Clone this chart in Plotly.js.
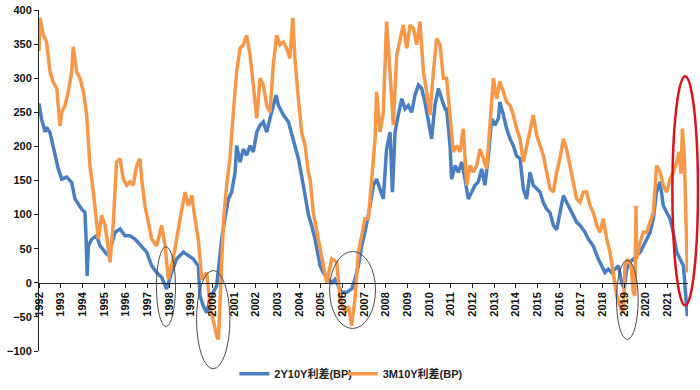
<!DOCTYPE html>
<html>
<head>
<meta charset="utf-8">
<script src="https://cdn.plot.ly/plotly-3.0.1.min.js"></script>
<style>html,body{margin:0;padding:0;background:#fff;}#chart{width:700px;height:390px;}</style>
</head>
<body>
<div id="chart"></div>
<script>
// ---- data (decimal year on the chart's year axis, spread in BP) ----
const seriesNames = ["2Y10Y利差(BP)", "3M10Y利差(BP)"];

const x2y10y = [
1992.00,1992.12,1992.28,1992.35,1992.51,1992.66,1992.74,1992.89,1993.05,1993.28,1993.51,1993.66,1993.97,1994.12,1994.18,1994.22,1994.28,1994.43,1994.66,1994.82,1995.05,1995.20,1995.51,1995.74,1995.97,1996.20,1996.43,1996.74,1996.97,1997.20,1997.43,1997.66,1997.89,1998.12,
1998.35,1998.66,1998.89,1999.12,1999.35,1999.43,1999.58,1999.74,1999.89,2000.05,2000.20,2000.35,2000.43,2000.58,2000.74,2000.89,2001.05,2001.12,2001.28,2001.43,2001.58,2001.74,2001.89,2002.05,2002.20,2002.35,2002.51,2002.66,2002.81,2002.94,2003.05,2003.28,2003.51,2003.74,2003.97,2004.20,2004.43,
2004.58,2004.74,2004.97,2005.12,2005.35,2005.51,2005.66,2005.81,2005.97,2006.20,2006.43,2006.58,2006.74,2006.89,2007.04,2007.28,2007.43,2007.58,2007.74,2007.89,2008.04,2008.20,2008.31,2008.43,2008.58,2008.74,2008.89,2009.04,2009.20,2009.35,2009.51,2009.66,2009.81,2009.97,2010.12,2010.27,2010.43,2010.58,2010.74,
2010.81,2010.97,2011.04,2011.20,2011.35,2011.51,2011.66,2011.81,2011.97,2012.12,2012.27,2012.43,2012.58,2012.74,2012.89,2013.04,2013.20,2013.27,2013.43,2013.58,2013.74,2013.89,2014.04,2014.20,2014.35,2014.50,2014.66,2014.81,2014.97,2015.12,2015.27,2015.43,2015.58,2015.74,2015.89,2016.04,2016.20,2016.35,2016.50,2016.66,2016.81,2016.97,
2017.20,2017.35,2017.58,2017.81,2017.97,2018.12,2018.27,2018.43,2018.58,2018.74,2018.89,2019.01,2019.12,2019.27,2019.43,2019.58,2019.74,2019.89,2020.04,2020.20,2020.35,2020.50,2020.66,2020.81,2020.97,2021.12,2021.27,2021.43,2021.58,2021.74,2021.81,2021.89,2021.92
];
const y2y10y = [
263,240,221,228,220,200,192,167,152,155,147,123,108,103,60,10,54,64,69,54,45,40,74,79,69,69,64,54,45,25,15,8,-9,15,
35,45,40,35,25,-19,-34,-44,-24,-14,-4,40,64,94,123,133,162,201,177,196,187,201,192,221,231,236,221,241,260,275,260,246,236,211,182,143,100,
84,64,25,15,5,0,5,-4,-14,-14,-9,5,25,54,74,113,143,152,138,123,196,221,133,221,246,270,255,260,250,275,290,285,265,236,211,260,285,270,255,
255,201,152,172,162,177,152,123,133,143,148,167,143,186,241,231,241,265,246,226,211,201,186,182,138,123,162,143,138,133,118,108,103,84,78,103,128,118,108,98,89,84,
74,64,54,35,25,15,20,15,20,25,0,-9,20,30,35,40,45,54,64,74,94,133,148,113,103,94,74,45,35,25,-4,-34,-49
];

const x3m10y = [
1992.00,1992.05,1992.20,1992.35,1992.51,1992.66,1992.82,1992.97,1993.05,1993.20,1993.35,1993.51,1993.58,1993.74,1993.89,1994.05,1994.20,1994.28,1994.35,1994.51,1994.66,1994.74,1994.89,1995.05,1995.20,1995.28,1995.43,1995.58,1995.74,1995.89,1996.05,1996.20,1996.35,1996.51,1996.66,1996.74,1996.89,1997.05,1997.20,1997.43,1997.66,1997.82,1997.97,1998.12,
1998.28,1998.51,1998.74,1998.89,1999.05,1999.20,1999.35,1999.51,1999.74,1999.89,2000.05,2000.20,2000.28,2000.35,2000.51,2000.66,2000.81,2000.97,2001.12,2001.28,2001.43,2001.58,2001.74,2001.89,2002.05,2002.20,2002.35,2002.51,2002.66,2002.81,2002.97,2003.12,2003.28,2003.43,2003.58,2003.71,2003.81,2003.97,2004.12,2004.28,2004.43,
2004.51,2004.66,2004.89,2005.12,2005.28,2005.51,2005.74,2005.89,2006.12,2006.28,2006.43,2006.58,2006.74,2006.89,2007.04,2007.20,2007.35,2007.51,2007.58,2007.74,2007.89,2008.04,2008.20,2008.35,2008.51,2008.66,2008.81,2008.97,2009.12,2009.28,2009.43,2009.58,2009.74,2009.89,2010.04,2010.20,2010.35,2010.51,2010.66,
2010.81,2010.97,2011.12,2011.27,2011.43,2011.58,2011.74,2011.89,2012.04,2012.20,2012.35,2012.51,2012.66,2012.81,2012.97,2013.12,2013.27,2013.43,2013.58,2013.74,2013.89,2014.04,2014.20,2014.35,2014.50,2014.66,2014.81,2014.97,2015.12,2015.27,2015.43,2015.58,2015.74,2015.89,2016.04,2016.20,2016.35,2016.50,2016.66,2016.81,2016.97,
2017.12,2017.27,2017.43,2017.58,2017.74,2017.89,2018.04,2018.20,2018.35,2018.50,2018.66,2018.81,2018.97,2019.04,2019.17,2019.32,2019.43,2019.50,2019.55,2019.58,2019.74,2019.89,2020.04,2020.20,2020.35,2020.50,2020.66,2020.81,2020.97,2021.12,2021.27,2021.43,2021.54,2021.63,2021.69,2021.78,2021.84,2021.89,2021.92
];
const y3m10y = [
340,388,363,353,309,294,285,230,250,260,280,309,346,309,300,280,246,211,172,133,89,64,99,84,50,30,89,177,182,152,143,148,143,172,182,152,113,89,64,54,84,54,5,25,
50,94,133,113,128,94,64,5,15,-34,-58,-78,-83,-34,89,143,182,250,309,344,349,363,334,290,241,300,290,260,250,319,363,349,353,344,329,388,329,270,221,201,162,
152,103,64,25,0,35,30,-24,-44,-34,-63,-24,45,69,94,94,152,211,280,221,250,383,309,231,334,358,378,344,378,373,349,383,309,280,246,309,358,349,300,
300,236,192,201,192,226,143,172,162,172,196,182,167,231,300,270,295,280,265,260,246,226,211,177,201,226,246,216,201,187,162,138,133,162,182,211,196,172,143,123,118,
133,133,113,103,84,74,94,64,45,15,-19,-34,-44,25,35,25,-14,-19,113,35,59,74,74,89,103,172,162,143,133,152,162,177,192,160,226,187,123,64,15
];

// ---- layout constants ----
const XR = [1992, 2021.95];
const YR = [-100, 400];

// highlighted episodes (data coordinates): [x0, x1, y0, y1]
const ellipses = [
  [1997.42, 1998.30, -64, 53],
  [1999.27, 2000.81, -126, 18],
  [2005.41, 2007.53, -67, 46],
  [2018.65, 2019.65, -83, 33]
];
const redEllipse = [2021.23, 2022.41, -33, 303];

function px(v){ return (v - XR[0]) / (XR[1] - XR[0]); }
function py(v){ return (v - YR[0]) / (YR[1] - YR[0]); }

const shapes = ellipses.map(e => ({
  type: 'circle', xref: 'paper', yref: 'paper',
  x0: px(e[0]), x1: px(e[1]), y0: py(e[2]), y1: py(e[3]),
  line: {color: '#4a4a4a', width: 1}, layer: 'above'
}));
shapes.push({
  type: 'circle', xref: 'paper', yref: 'paper',
  x0: px(redEllipse[0]), x1: px(redEllipse[1]), y0: py(redEllipse[2]), y1: py(redEllipse[3]),
  line: {color: '#d9141c', width: 2.5}, layer: 'above'
});

const fontFam = 'Arial, "Liberation Sans", "Noto Sans CJK SC", sans-serif';

const traces = [
  {x: x2y10y, y: y2y10y, name: seriesNames[0], type: 'scatter', mode: 'lines',
   line: {color: '#4a7ebf', width: 3.5}, legend: 'legend'},
  {x: x3m10y, y: y3m10y, name: seriesNames[1], type: 'scatter', mode: 'lines',
   line: {color: '#f5984a', width: 3.5}, legend: 'legend2'}
];

const legFont = {family: fontFam, size: 11, color: '#222', weight: 'bold'};

const layout = {
  width: 700, height: 390,
  margin: {l: 39, r: 12, t: 10, b: 39, autoexpand: false},
  paper_bgcolor: '#ffffff', plot_bgcolor: '#ffffff',
  font: {family: fontFam, size: 11, color: '#111'},
  showlegend: true,
  legend: {orientation: 'h', x: 0.301, xanchor: 'left', y: -0.067, yanchor: 'middle',
           font: legFont, itemwidth: 30, bgcolor: 'rgba(0,0,0,0)'},
  legend2: {orientation: 'h', x: 0.468, xanchor: 'left', y: -0.067, yanchor: 'middle',
           font: legFont, itemwidth: 30, bgcolor: 'rgba(0,0,0,0)'},
  xaxis: {
    range: XR, anchor: 'free', position: py(0),
    showgrid: false, zeroline: false,
    showline: true, linecolor: '#222', linewidth: 1,
    ticks: 'outside', ticklen: 4, tickcolor: '#222',
    tick0: 1992, dtick: 1, tickangle: -90,
    tickfont: {family: fontFam, size: 11, color: '#111', weight: 'bold'}
  },
  yaxis: {
    range: YR, showgrid: false, zeroline: false,
    showline: true, linecolor: '#222', linewidth: 1,
    ticks: 'outside', ticklen: 4, tickcolor: '#222',
    tick0: -100, dtick: 50,
    tickfont: {family: fontFam, size: 11, color: '#111', weight: 'bold'}
  },
  shapes: shapes
};

Plotly.newPlot('chart', traces, layout, {displayModeBar: false, staticPlot: true});
</script>
</body>
</html>
